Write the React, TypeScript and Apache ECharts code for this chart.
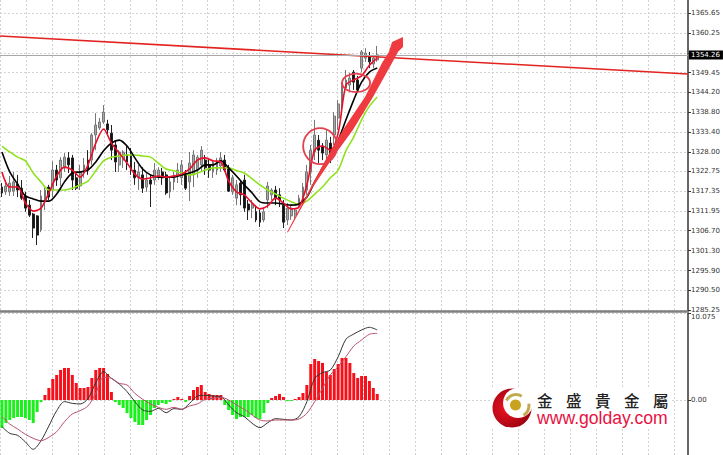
import React, { useEffect, useRef } from "react";
import * as echarts from "echarts";

const SLOT_COUNT = 176;
const PRICE_TICKS = [1365.65, 1360.25, 1354.85, 1349.45, 1344.2, 1338.8, 1333.4, 1328.0, 1322.75, 1317.35, 1311.95, 1306.7, 1301.3, 1295.9, 1290.5, 1285.25];
const PRICE_LABELS = [1365.65, 1360.25, 1349.45, 1344.2, 1338.8, 1333.4, 1328.0, 1322.75, 1317.35, 1311.95, 1306.7, 1301.3, 1295.9, 1290.5, 1285.25];
const MACD_TICKS = [10.075, 0];
const LAST_PRICE = 1354.26;
const GRID_BARS = Array.from({ length: 27 }, (_, i) => -0.386 + i * 6.626);

// open, close, low, high
const CANDLES = [
  [1318.5,1316.9,1315.8,1319.6],[1317.2,1318.8,1316.4,1320.4],[1317.2,1319.6,1316.1,1321.5],[1317.4,1319.9,1316.1,1322.6],
  [1319.3,1317.7,1315.8,1321.8],[1318.2,1315.5,1315.0,1320.4],[1316.1,1312.8,1311.8,1317.2],[1313.6,1310.9,1310.4,1315.0],
  [1311.2,1307.4,1304.7,1311.5],[1310.7,1305.5,1302.8,1310.9],[1306.9,1316.1,1306.3,1317.7],[1315.0,1317.7,1312.3,1318.5],
  [1318.5,1315.8,1315.0,1319.1],[1317.7,1323.1,1315.8,1325.5],[1323.1,1320.4,1318.8,1324.5],[1321.0,1325.8,1318.8,1326.6],
  [1323.7,1326.6,1322.6,1327.7],[1326.4,1324.5,1322.3,1328.0],[1326.4,1320.4,1317.7,1327.2],[1321.0,1318.2,1317.7,1322.6],
  [1318.8,1322.6,1317.7,1324.5],[1322.6,1324.5,1321.0,1326.4],[1325.8,1323.1,1321.8,1328.5],[1325.8,1332.6,1324.5,1333.1],
  [1332.6,1335.3,1328.5,1338.5],[1334.5,1336.1,1334.0,1337.2],[1336.1,1338.8,1335.6,1340.7],[1335.6,1334.0,1332.6,1336.7],
  [1333.1,1328.5,1325.8,1335.3],[1329.9,1325.3,1322.6,1331.2],[1324.5,1328.0,1322.6,1328.5],[1325.8,1328.0,1323.7,1328.5],
  [1327.2,1325.3,1323.1,1329.6],[1327.2,1323.1,1321.8,1329.1],[1323.1,1321.0,1319.1,1325.3],[1321.0,1322.6,1317.7,1324.5],
  [1321.8,1318.2,1316.9,1323.9],[1318.5,1320.4,1317.2,1322.3],[1320.4,1319.3,1313.1,1321.8],[1320.4,1323.1,1319.1,1325.0],
  [1321.5,1323.1,1320.4,1323.9],[1322.6,1321.0,1319.1,1323.7],[1321.8,1316.9,1316.4,1322.6],[1317.2,1319.9,1315.5,1321.0],
  [1319.9,1321.8,1317.7,1322.6],[1321.5,1323.1,1319.6,1325.0],[1321.0,1324.5,1319.1,1325.8],[1321.8,1318.2,1317.7,1323.1],
  [1319.9,1325.0,1314.7,1328.0],[1321.8,1327.2,1318.5,1328.5],[1323.1,1326.6,1321.0,1327.2],[1324.5,1328.5,1322.6,1329.6],
  [1325.8,1323.7,1321.8,1327.2],[1324.5,1323.1,1321.0,1326.4],[1322.6,1325.3,1321.0,1325.8],[1323.1,1325.3,1321.8,1326.4],
  [1324.2,1326.4,1322.6,1328.0],[1325.8,1323.1,1322.6,1327.2],[1323.7,1317.4,1317.2,1324.5],[1317.2,1321.0,1316.4,1321.8],
  [1315.5,1319.1,1313.6,1320.4],[1319.6,1316.4,1313.6,1320.4],[1320.4,1312.8,1311.8,1321.8],[1313.9,1312.3,1309.6,1315.0],
  [1312.8,1313.9,1310.1,1315.0],[1311.8,1309.6,1309.0,1313.6],[1311.5,1309.0,1307.7,1312.3],[1309.6,1311.8,1309.0,1312.8],
  [1315.0,1318.8,1312.8,1319.9],[1316.4,1317.7,1315.0,1318.2],[1317.7,1315.5,1313.6,1318.8],[1316.4,1315.0,1313.1,1318.2],
  [1313.6,1309.0,1307.4,1315.0],[1309.6,1312.8,1308.2,1314.2],[1310.7,1312.8,1309.6,1313.6],[1310.9,1312.3,1309.6,1312.8],
  [1313.6,1315.5,1312.8,1316.4],[1315.0,1318.5,1314.2,1319.6],[1317.7,1322.6,1316.4,1324.5],[1322.6,1328.5,1319.1,1329.9],
  [1328.0,1332.6,1325.8,1336.7],[1331.2,1328.5,1325.0,1332.6],[1329.6,1327.7,1325.8,1330.4],[1327.2,1331.2,1324.5,1334.0],
  [1330.4,1326.9,1325.0,1332.1],[1332.6,1337.7,1329.9,1338.8],[1337.2,1341.0,1334.0,1342.1],[1340.4,1346.1,1338.0,1346.9],
  [1345.3,1347.5,1344.8,1350.2],[1346.1,1348.0,1344.2,1349.4],[1349.6,1346.9,1344.8,1350.2],[1347.5,1344.8,1344.2,1348.6],
  [1350.7,1355.1,1349.6,1355.6],[1353.4,1354.8,1352.4,1356.1],[1354.0,1352.4,1350.7,1355.1],[1351.8,1353.4,1350.7,1354.3],
  [1352.9,1354.3,1352.4,1356.7],
];

// read every second bar
const MA_FAST = [1322.6,1318.5,1318.5,1314.2,1312.0,1312.8,1316.9,1321.5,1323.9,1323.1,1321.2,1324.5,1330.4,1334.2,1330.4,1327.7,1325.0,1322.0,1320.7,1321.0,1321.5,1321.2,1321.5,1322.0,1323.4,1325.8,1326.4,1325.6,1325.3,1320.1,1317.2,1316.4,1314.2,1312.6,1313.4,1315.5,1314.2,1312.6,1313.1,1319.1,1328.5,1329.6,1328.5,1333.1,1346.1,1347.5,1348.6,1351.5,1353.4];
const MA_MID = [1328.0,1322.6,1319.3,1316.1,1315.3,1314.7,1314.7,1316.6,1319.9,1322.3,1322.6,1323.1,1325.3,1328.3,1330.4,1331.2,1329.6,1326.4,1323.4,1321.8,1321.2,1321.2,1321.2,1321.8,1322.3,1323.1,1324.5,1324.5,1325.6,1323.7,1321.5,1319.1,1316.9,1314.5,1314.2,1314.2,1313.9,1313.6,1313.9,1315.8,1319.9,1323.7,1327.2,1331.2,1336.7,1342.1,1346.9,1349.6,1350.7];
const MA_SLOW = [1329.6,1328.0,1326.6,1325.6,1322.3,1319.9,1317.7,1317.7,1317.7,1318.2,1319.1,1320.1,1322.9,1325.6,1326.6,1326.9,1327.2,1327.2,1326.9,1326.6,1325.0,1323.4,1322.9,1322.3,1321.8,1322.3,1323.1,1323.7,1323.7,1323.7,1322.9,1322.3,1320.7,1319.1,1317.7,1316.6,1315.5,1314.5,1313.9,1314.7,1316.6,1318.5,1321.0,1323.1,1328.3,1332.1,1336.7,1340.4,1342.9];

const MACD_HIST = [-3.24,-2.67,-2.32,-2.09,-1.97,-1.97,-2.09,-2.32,-2.67,-1.39,-0.23,0.58,1.39,2.43,2.9,3.48,3.71,3.71,2.9,1.97,1.39,1.39,1.51,2.55,3.48,3.71,3.71,3.01,0.93,
  -0.23,-0.58,-0.93,-1.51,-2.09,-2.55,-2.9,-2.9,-2.32,-1.74,-0.93,-0.58,-0.35,-0.46,-0.23,0.12,0.35,0.12,-0.23,
  0.46,1.16,1.51,1.74,0.93,0.7,0.58,0.58,0.58,-0.58,-1.16,-1.74,-2.2,-1.97,-1.97,-1.97,-1.74,-2.09,-2.2,-1.51,-0.35,0.23,0.46,0.7,0.35,-0.12,-0.12,0.12,0.35,0.81,1.74,4.17,4.75,4.52,4.29,3.24,2.9,3.59,4.17,4.87,4.87,4.29,3.13,2.55,2.78,2.78,2.2,1.39,0.7];
const MACD_LINE = [-3.09,-3.86,-4.09,-4.86,-5.71,-4.71,-3.01,-1.24,-0.19,-0.39,-0.46,0.15,2.01,3.28,2.51,1.85,0.97,-0.19,-1.16,-1.31,-0.97,-1.47,-1.0,-1.08,-0.39,
  0.46,0.54,0.46,0.39,-0.58,-1.47,-1.93,-2.7,-3.2,-2.63,-2.16,-2.24,-2.32,-1.93,-0.19,2.51,3.17,3.47,5.0,7.04,7.64,8.11,8.42,8.11];
const MACD_SIGNAL = [-1.93,-2.78,-3.36,-3.98,-4.44,-4.71,-4.32,-3.67,-2.51,-1.62,-1.24,-0.69,0.77,2.63,2.51,1.93,1.74,0.77,0.08,-0.46,-0.85,-1.08,-0.85,-1.08,-0.69,
  -0.46,0.08,0.19,0.31,0,-0.58,-1.08,-1.74,-2.32,-2.43,-2.32,-2.32,-2.32,-2.2,-1.54,-0.19,1.35,2.9,3.86,5.02,6.25,6.95,7.61,7.72];

// annotations, in [bar, price]
const RESISTANCE = [[-0.5, 1359.4], [175.5, 1349.1]];
const ARROW = [[72.9,1306.3],[79.06,1318.5],[83.15,1326.6],[87.25,1334.0],[92.87,1342.9],[97.22,1352.1],[99.01,1355.1],[99.78,1357.8],
  [102.59,1359.1],[102.59,1356.4],[101.32,1355.1],[99.78,1352.1],[94.92,1342.9],[89.8,1334.0],[84.69,1326.6],[79.57,1318.5],[73.18,1306.3]];
const CIRCLES = [[81.4,1329.6,4.35,4.87],[90.6,1346.7,3.58,2.5]];

const LOGO_CHARS = ["金", "盛", "貴", "金", "屬"];
const LOGO_URL = "www.golday.com";

const every2 = (vals: number[]) => vals.map((v, k) => [k * 2, v]);
const FONT = "DejaVu Sans";

export default function App() {
  const ref = useRef<HTMLDivElement>(null);
  useEffect(() => {
    const chart = echarts.init(ref.current!, null, { renderer: "svg" });
    const slots = Array.from({ length: SLOT_COUNT }, (_, i) => String(i));
    const dashed = { show: true, lineStyle: { color: "#d2d2d2", width: 1, type: [2, 2] as any } };
    const catAxis = (gridIndex: number, line: boolean) => ({
      type: "category", gridIndex, data: slots, boundaryGap: true, position: "bottom",
      axisLine: line ? { show: true, onZero: false, lineStyle: { color: "#808080", width: 2.5 } } : { show: false },
      axisTick: { show: false }, axisLabel: { show: false }, splitLine: { show: false },
    });
    const gridAxis = (gridIndex: number) => ({
      type: "value", gridIndex, min: -0.5, max: SLOT_COUNT - 0.5, position: "top",
      axisLine: { show: false }, axisLabel: { show: false },
      axisTick: { show: false, customValues: GRID_BARS }, splitLine: dashed,
    });
    const priceAxis = (gridIndex: number, min: number, max: number, ticks: number[], labels: number[], fmt: (v: number) => string) => ({
      type: "value", gridIndex, min, max, position: "right", scale: true,
      axisLine: { show: true, onZero: false, lineStyle: { color: "#333", width: 1.5 } },
      axisTick: { show: true, length: 3, lineStyle: { color: "#333" }, customValues: ticks },
      axisLabel: {
        show: true, customValues: labels, formatter: fmt, color: "#333", fontFamily: FONT, fontSize: 7, margin: 3,
        rich: { low: { padding: [8, 0, 0, 0], color: "#333", fontFamily: FONT, fontSize: 7 } },
      },
      splitLine: dashed,
    });

    chart.setOption({
      animation: false,
      grid: [
        { left: 0, top: 0, width: 688, height: 311 },
        { left: 0, top: 313, width: 688, height: 142 },
      ],
      xAxis: [catAxis(0, true), gridAxis(0), catAxis(1, false), gridAxis(1)],
      yAxis: [
        priceAxis(0, 1284.95, 1369.14, PRICE_TICKS, PRICE_LABELS, (v) => v.toFixed(2)),
        priceAxis(1, -6.37, 10.075, MACD_TICKS, MACD_TICKS, (v) => (v ? `{low|${v.toFixed(3)}}` : v.toFixed(2))),
      ],
      series: [
        {
          type: "candlestick", xAxisIndex: 0, yAxisIndex: 0, data: CANDLES, barWidth: 2.4, silent: true,
          itemStyle: { color: "#a8a8a8", color0: "#111", borderColor: "#777", borderColor0: "#222", borderWidth: 1 },
          markLine: {
            silent: true, symbol: "none",
            lineStyle: { color: "#a8a8a8", width: 1, type: "solid" },
            data: [{ yAxis: LAST_PRICE }],
            label: { position: "end", distance: 1, formatter: LAST_PRICE.toFixed(2), color: "#fff", backgroundColor: "#000", fontFamily: FONT, fontSize: 7, padding: [1, 3, 1, 2] },
          },
        },
        { type: "line", xAxisIndex: 0, yAxisIndex: 0, data: every2(MA_SLOW), smooth: 0.3, symbol: "none", silent: true, lineStyle: { color: "#8fe31e", width: 1.6 } },
        { type: "line", xAxisIndex: 0, yAxisIndex: 0, data: every2(MA_MID), smooth: 0.3, symbol: "none", silent: true, lineStyle: { color: "#000", width: 1.6 } },
        { type: "line", xAxisIndex: 0, yAxisIndex: 0, data: every2(MA_FAST), smooth: 0.3, symbol: "none", silent: true, lineStyle: { color: "#e8102a", width: 1.6 } },
        { type: "line", xAxisIndex: 1, yAxisIndex: 0, data: RESISTANCE, symbol: "none", silent: true, lineStyle: { color: "#e2231f", width: 1.6 } },
        {
          type: "custom", xAxisIndex: 1, yAxisIndex: 0, data: [[0]], silent: true, z: 6,
          renderItem: (_: any, api: any) => ({
            type: "polygon",
            shape: { points: ARROW.map((p) => api.coord(p)) },
            style: { fill: "#ef3a3f" },
          }),
        },
        {
          type: "custom", xAxisIndex: 1, yAxisIndex: 0, data: CIRCLES, silent: true, z: 6,
          renderItem: (_: any, api: any) => {
            const c = api.coord([api.value(0), api.value(1)]);
            const s = api.size([api.value(2), api.value(3)]);
            return { type: "ellipse", shape: { cx: c[0], cy: c[1], rx: s[0], ry: s[1] }, style: { fill: "none", stroke: "#e2404c", lineWidth: 1.8 } };
          },
        },
        {
          type: "bar", xAxisIndex: 2, yAxisIndex: 1, barWidth: 3, silent: true,
          data: MACD_HIST.map((v) => ({ value: v, itemStyle: { color: v >= 0 ? "#f5101a" : "#1cf01c" } })),
        },
        { type: "line", xAxisIndex: 2, yAxisIndex: 1, data: every2(MACD_LINE), smooth: 0.3, symbol: "none", silent: true, lineStyle: { color: "#333", width: 1 } },
        { type: "line", xAxisIndex: 2, yAxisIndex: 1, data: every2(MACD_SIGNAL), smooth: 0.3, symbol: "none", silent: true, lineStyle: { color: "#b8506a", width: 1 } },
      ],
      graphic: [
        { type: "rect", silent: true, z: 50, shape: { x: 490, y: 387, width: 180, height: 41 }, style: { fill: "#fff" } },
        {
          type: "circle", silent: true, z: 51, shape: { cx: 512, cy: 408, r: 19.5 },
          style: { fill: new echarts.graphic.RadialGradient(0.35, 0.5, 0.65, [{ offset: 0, color: "#ee1420" }, { offset: 1, color: "#960010" }]) },
        },
        { type: "circle", silent: true, z: 52, shape: { cx: 518, cy: 403, r: 15 }, style: { fill: "#fff" } },
        { type: "circle", silent: true, z: 53, shape: { cx: 515.5, cy: 405, r: 5.5 }, style: { fill: "#c9a21e" } },
        { type: "arc", silent: true, z: 53, shape: { cx: 516, cy: 405, r: 10.5, startAngle: -2.7, endAngle: -1.0, clockwise: true }, style: { fill: "none", stroke: "#c2aa50", lineWidth: 3 } },
        { type: "arc", silent: true, z: 53, shape: { cx: 516, cy: 405, r: 13, startAngle: -0.1, endAngle: 0.95, clockwise: true }, style: { fill: "none", stroke: "#c2aa50", lineWidth: 3 } },
        ...LOGO_CHARS.map((ch, i) => ({
          type: "text", silent: true, z: 53, x: 537 + i * 29, y: 392,
          style: { text: ch, fontFamily: "Noto Sans CJK TC", fontSize: 15.5, lineHeight: 16, fontWeight: 500, fill: "#222" },
        })),
        {
          type: "text", silent: true, z: 53, x: 537, y: 409,
          style: { text: LOGO_URL, fontFamily: "Liberation Sans", fontSize: 17.6, lineHeight: 18, fill: "#e8123f" },
        },
      ],
    });
    return () => chart.dispose();
  }, []);
  return <div ref={ref} style={{ position: "absolute", left: 0, top: 0, width: 723, height: 455, background: "#fff", overflow: "hidden" }} />;
}
